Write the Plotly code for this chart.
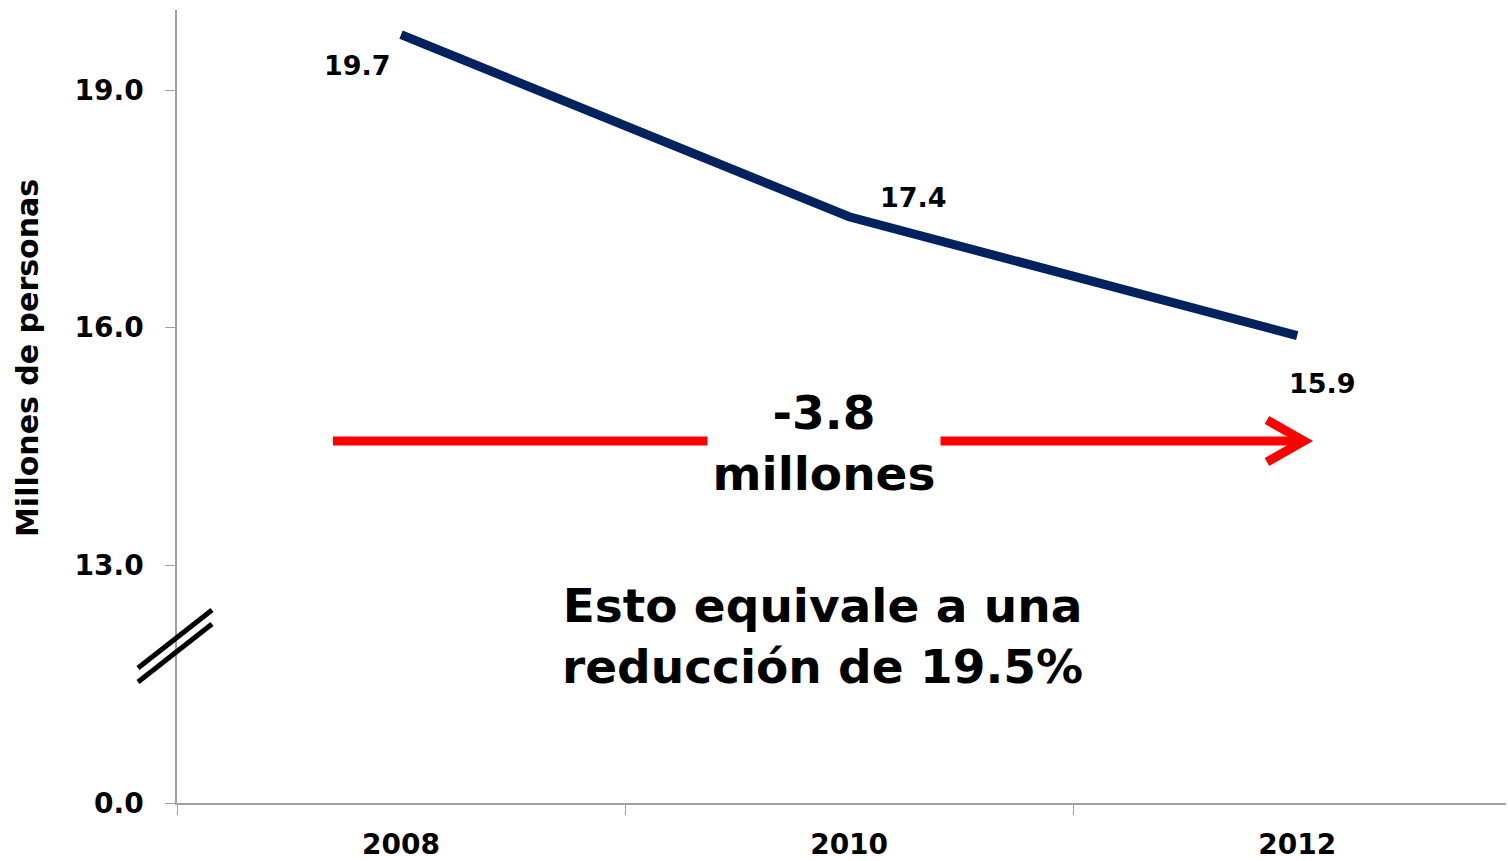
import plotly.graph_objects as go

years = ["2008", "2010", "2012"]
personas = [19.7, 17.4, 15.9]
etiquetas = ["19.7", "17.4", "15.9"]
y_ticks = [10, 13, 16, 19]
y_tick_text = ["0.0", "13.0", "16.0", "19.0"]

FONT = "DejaVu Sans"
L, R, T, B = 177, 2, 10, 58
W, H = 1508, 861
PW, PH = W - L - R, H - T - B


def px_x(x):
    return (x - L) / PW


def px_y(y):
    return (H - B - y) / PH


fig = go.Figure()
fig.add_trace(go.Scatter(
    x=years, y=personas, mode="lines",
    line=dict(color="#02215f", width=9),
    hoverinfo="skip", showlegend=False,
))

# data labels (x by category index so "2008" isn't read as a number)
shifts = [(-44, -31), (64, 19), (25, -48)]
for i, (v, t, (dx, dy)) in enumerate(zip(personas, etiquetas, shifts)):
    fig.add_annotation(x=i, y=v, text=t, showarrow=False, xshift=dx, yshift=dy,
                       xanchor="center", yanchor="middle",
                       font=dict(family=FONT, size=27, color="black", weight="bold"))

# red arrow
fig.add_shape(type="line", xref="paper", yref="paper",
              x0=px_x(333), x1=px_x(1304), y0=px_y(441), y1=px_y(441),
              line=dict(color="#ff0000", width=9))
fig.add_shape(type="path", xref="paper", yref="paper",
              path=f"M {px_x(1267)} {px_y(420)} L {px_x(1304)} {px_y(441)} L {px_x(1267)} {px_y(462)}",
              line=dict(color="#ff0000", width=9))
fig.add_annotation(xref="paper", yref="paper", x=px_x(824), y=px_y(443),
                   xanchor="center", yanchor="middle",
                   text="-3.8<br>millones", showarrow=False, bgcolor="white",
                   borderpad=0, width=232,
                   font=dict(family=FONT, size=47, color="black", weight="bold"))

fig.add_annotation(xref="paper", yref="paper", x=px_x(822), y=px_y(636),
                   xanchor="center", yanchor="middle",
                   text="Esto equivale a una<br>reducción de 19.5%", showarrow=False,
                   font=dict(family=FONT, size=47, color="black", weight="bold"))

# axis break marks
for off in (0, 14):
    fig.add_shape(type="line", xref="paper", yref="paper",
                  x0=px_x(138), y0=px_y(668 + off), x1=px_x(212), y1=px_y(610 + off),
                  line=dict(color="black", width=5))

fig.add_annotation(xref="paper", yref="paper", x=px_x(27), y=px_y(358),
                   xanchor="center", yanchor="middle",
                   text="Millones de personas", textangle=-90, showarrow=False,
                   font=dict(family=FONT, size=30, color="black", weight="bold"))

fig.update_layout(
    width=W, height=H,
    margin=dict(l=L, r=R, t=T, b=B),
    plot_bgcolor="white", paper_bgcolor="white",
    showlegend=False,
)
fig.update_xaxes(
    type="category", range=[-0.5, 2.466], showgrid=False, automargin=False,
    showline=True, linecolor="#a0a0a0", linewidth=1.5,
    ticks="outside", tickson="boundaries", ticklen=10, tickcolor="#a0a0a0",
    ticklabelstandoff=16,
    tickfont=dict(family=FONT, size=28, color="black", weight="bold"),
)
fig.update_yaxes(
    range=[10, 20.01], showgrid=False, zeroline=False, automargin=False,
    showline=True, linecolor="#a0a0a0", linewidth=1.5,
    ticks="outside", ticklen=10, tickcolor="#a0a0a0",
    tickvals=y_ticks, ticktext=y_tick_text, ticklabelstandoff=16,
    tickfont=dict(family=FONT, size=28, color="black", weight="bold"),
)

fig.write_html("out.html", config={"displayModeBar": False},
               post_script="document.body.style.margin='0';")
